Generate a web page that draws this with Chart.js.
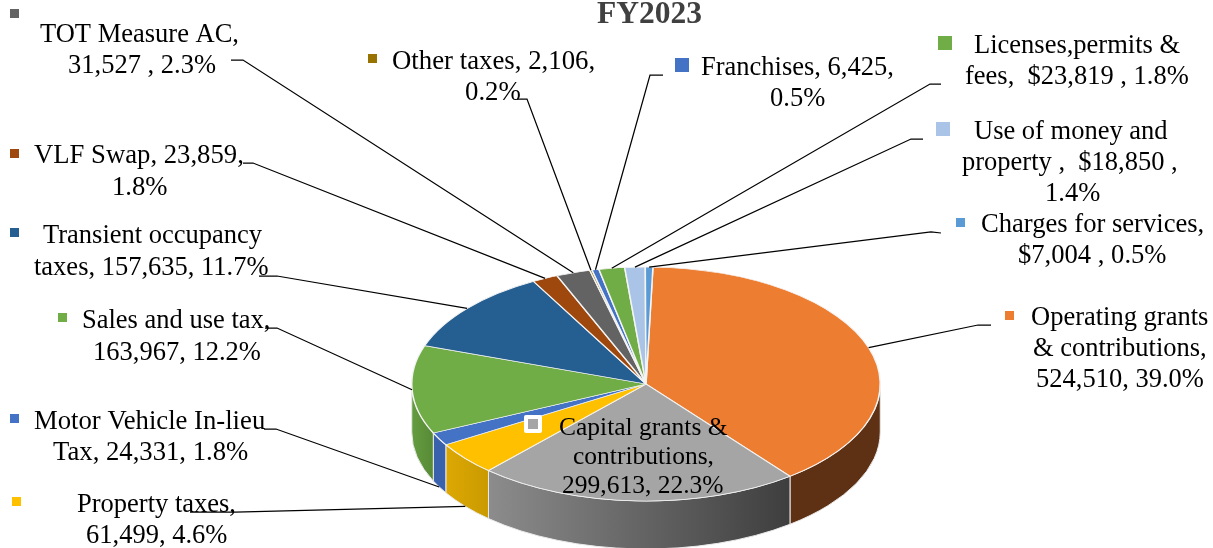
<!DOCTYPE html>
<html>
<head>
<meta charset="utf-8">
<title>FY2023</title>
<script src="https://cdn.jsdelivr.net/npm/chart.js@4"></script>
<style>
  html, body { margin: 0; padding: 0; background: #fff; overflow: hidden; }
  canvas { display: block; }
</style>
</head>
<body>
<canvas id="myChart" width="1213" height="548"></canvas>
<script>
// revenue sources, clockwise from the top of the pie
var categories = ["Operating grants & contributions", "Capital grants & contributions", "Property taxes",
    "Motor Vehicle In-lieu Tax", "Sales and use tax", "Transient occupancy taxes", "VLF Swap", "TOT Measure AC",
    "Other taxes", "Franchises", "Licenses,permits & fees", "Use of money and property", "Charges for services"];
var values = [524510, 299613, 61499, 24331, 163967, 157635, 23859, 31527, 2106, 6425, 23819, 18850, 7004];
var colors = ["#ED7D31", "#A5A5A5", "#FFC000", "#4472C4", "#70AD47", "#255E91", "#9E480E", "#636363",
    "#997300", "#4472C4", "#70AD47", "#A9C4E6", "#5B9BD5"];
var wallLeft = ["#5F3114", "#8C8C8C", "#DDA803", "#3A62AC", "#659C40", "#255E91", "#9E480E", "#636363",
    "#997300", "#4472C4", "#70AD47", "#A9C4E6", "#5B9BD5"];
var wallRight = ["#5F3114", "#3E3E3E", "#C99A00", "#3A62AC", "#578A36", "#255E91", "#9E480E", "#636363",
    "#997300", "#4472C4", "#70AD47", "#A9C4E6", "#5B9BD5"];
var labelLines = [
    ["Operating grants", "& contributions,", "524,510, 39.0%"],
    ["Capital grants &", "contributions,", "299,613, 22.3%"],
    ["Property taxes,", "61,499, 4.6%"],
    ["Motor Vehicle In-lieu", "Tax, 24,331, 1.8%"],
    ["Sales and use tax,", "163,967, 12.2%"],
    ["Transient occupancy", "taxes, 157,635, 11.7%"],
    ["VLF Swap, 23,859,", "1.8%"],
    ["TOT Measure AC,", "31,527 , 2.3%"],
    ["Other taxes, 2,106,", "0.2%"],
    ["Franchises, 6,425,", "0.5%"],
    ["Licenses,permits &", "fees,  $23,819 , 1.8%"],
    ["Use of money and", "property ,  $18,850 ,", "1.4%"],
    ["Charges for services,", "$7,004 , 0.5%"]
];

// layout of the annotations, same order as above
var labelX = [[1031, 1033, 1036], [559, 573, 562], [77, 86], [34, 53], [82, 93], [43, 34], [34, 112], [40, 68],
    [392, 465], [701, 770], [974, 965], [974, 962, 1045], [981, 1018]];
var labelY = [[325, 356, 387], [435, 464, 493], [512, 543], [429, 460], [328, 360], [243, 275], [163, 195], [42, 73],
    [69, 100], [75, 106], [53, 84], [139, 170, 201], [232, 263]];
var labelSize = [26.5, 25.5, 26.5, 26.7, 26.5, 26.5, 26.7, 26.5, 26.8, 26.5, 26.5, 26.5, 26.6];
var markerBox = [[1005, 311, 9], [528, 419, 10], [12, 497, 9], [10, 414, 9], [58, 313, 9], [10, 228, 9], [10, 149, 9],
    [10, 9, 9], [368, 54, 9], [675, 58, 14], [938, 36, 14], [936, 122, 14], [956, 218, 9]];
var leaderStart = [[991, 325], null, [190, 512], [264, 429], [265, 328], [259, 276], [243, 163], [231, 60],
    [517, 99], [663, 75], [941, 84], [923, 139], [941, 233]];
var leaderElbow = [[978, 325], null, [235, 512], [276, 429], [277, 328], [277, 276], [253, 163], [243, 60],
    [527, 99], [650, 75], [930, 84], [911, 139], [931, 232]];
var leaderOnWall = [false, false, true, true, false, false, false, false, false, false, false, false, false];

var pieY = 384;
var radiusY = 117;
var depth = 48;

function norm(a) {
    while (a < 0) a += Math.PI * 2;
    while (a >= Math.PI * 2) a -= Math.PI * 2;
    return a;
}

function draw_walls(chart) {
    var ctx = chart.ctx;
    var arcs = chart.getDatasetMeta(0).data;
    arcs.forEach(function (arc, i) {
        // only the part of a slice on the near side of the pie shows a wall
        var s = norm(arc.startAngle);
        var e = s + (arc.endAngle - arc.startAngle);
        var parts = [[Math.max(s, 0), Math.min(e, Math.PI)], [Math.max(s, Math.PI * 2), Math.min(e, Math.PI * 3)]];
        parts.forEach(function (p) {
            if (p[1] <= p[0]) return;
            var rx = arc.outerRadius;
            var x1 = arc.x + rx * Math.cos(p[1]);
            var x2 = arc.x + rx * Math.cos(p[0]);
            var grad = ctx.createLinearGradient(x1, 0, x2, 0);
            grad.addColorStop(0, wallLeft[i]);
            grad.addColorStop(1, wallRight[i]);
            ctx.beginPath();
            ctx.ellipse(arc.x, pieY, rx, radiusY, 0, p[0], p[1]);
            ctx.ellipse(arc.x, pieY + depth, rx, radiusY, 0, p[1], p[0], true);
            ctx.closePath();
            ctx.fillStyle = grad;
            ctx.fill();
            ctx.lineWidth = 1;
            ctx.strokeStyle = "#E9E9E9";
            ctx.stroke();
        });
    });
}

function draw_notes(chart) {
    var ctx = chart.ctx;
    var arcs = chart.getDatasetMeta(0).data;

    ctx.strokeStyle = "#000";
    ctx.lineWidth = 1.25;
    arcs.forEach(function (arc, i) {
        if (!leaderStart[i]) return;
        var mid = (arc.startAngle + arc.endAngle) / 2;
        var ex = arc.x + arc.outerRadius * Math.cos(mid);
        var ey = pieY + radiusY * Math.sin(mid) + (leaderOnWall[i] ? depth : 0);
        ctx.beginPath();
        ctx.moveTo(leaderStart[i][0], leaderStart[i][1]);
        ctx.lineTo(leaderElbow[i][0], leaderElbow[i][1]);
        ctx.lineTo(ex, ey);
        ctx.stroke();
    });

    ctx.textAlign = "left";
    ctx.textBaseline = "alphabetic";
    categories.forEach(function (name, i) {
        var m = markerBox[i];
        if (i == 1) {
            ctx.fillStyle = "#fff";
            ctx.beginPath();
            ctx.roundRect(m[0] - 4, m[1] - 4, m[2] + 8, m[2] + 8, 2);
            ctx.fill();
        }
        ctx.fillStyle = colors[i];
        ctx.fillRect(m[0], m[1], m[2], m[2]);
        ctx.fillStyle = "#000";
        ctx.font = labelSize[i] + "px 'Liberation Serif'";
        labelLines[i].forEach(function (line, k) {
            ctx.fillText(line, labelX[i][k], labelY[i][k]);
        });
    });

    ctx.fillStyle = "#404040";
    ctx.font = "bold 31.5px 'Liberation Serif'";
    ctx.fillText("FY2023", 597, 23);
}

// squashes the flat pie into an ellipse and puts the side walls under it
var pie3d = {
    id: "pie3d",
    beforeDatasetsDraw: function (chart) {
        var ctx = chart.ctx;
        var arc = chart.getDatasetMeta(0).data[0];
        draw_walls(chart);
        ctx.save();
        ctx.translate(0, pieY);
        ctx.scale(1, radiusY / arc.outerRadius);
        ctx.translate(0, -arc.y);
    },
    afterDatasetsDraw: function (chart) {
        chart.ctx.restore();
        draw_notes(chart);
    }
};

new Chart("myChart", {
    type: "pie",
    data: {
        labels: categories,
        datasets: [{
            data: values,
            backgroundColor: colors,
            borderColor: "#F4F4F4",
            borderWidth: 1.5
        }]
    },
    options: {
        responsive: false,
        animation: false,
        rotation: 1.7,
        layout: { padding: { left: 411, right: 332, top: 39, bottom: 39 } },
        plugins: {
            legend: { display: false },
            tooltip: { enabled: false }
        }
    },
    plugins: [pie3d]
});
</script>
</body>
</html>
